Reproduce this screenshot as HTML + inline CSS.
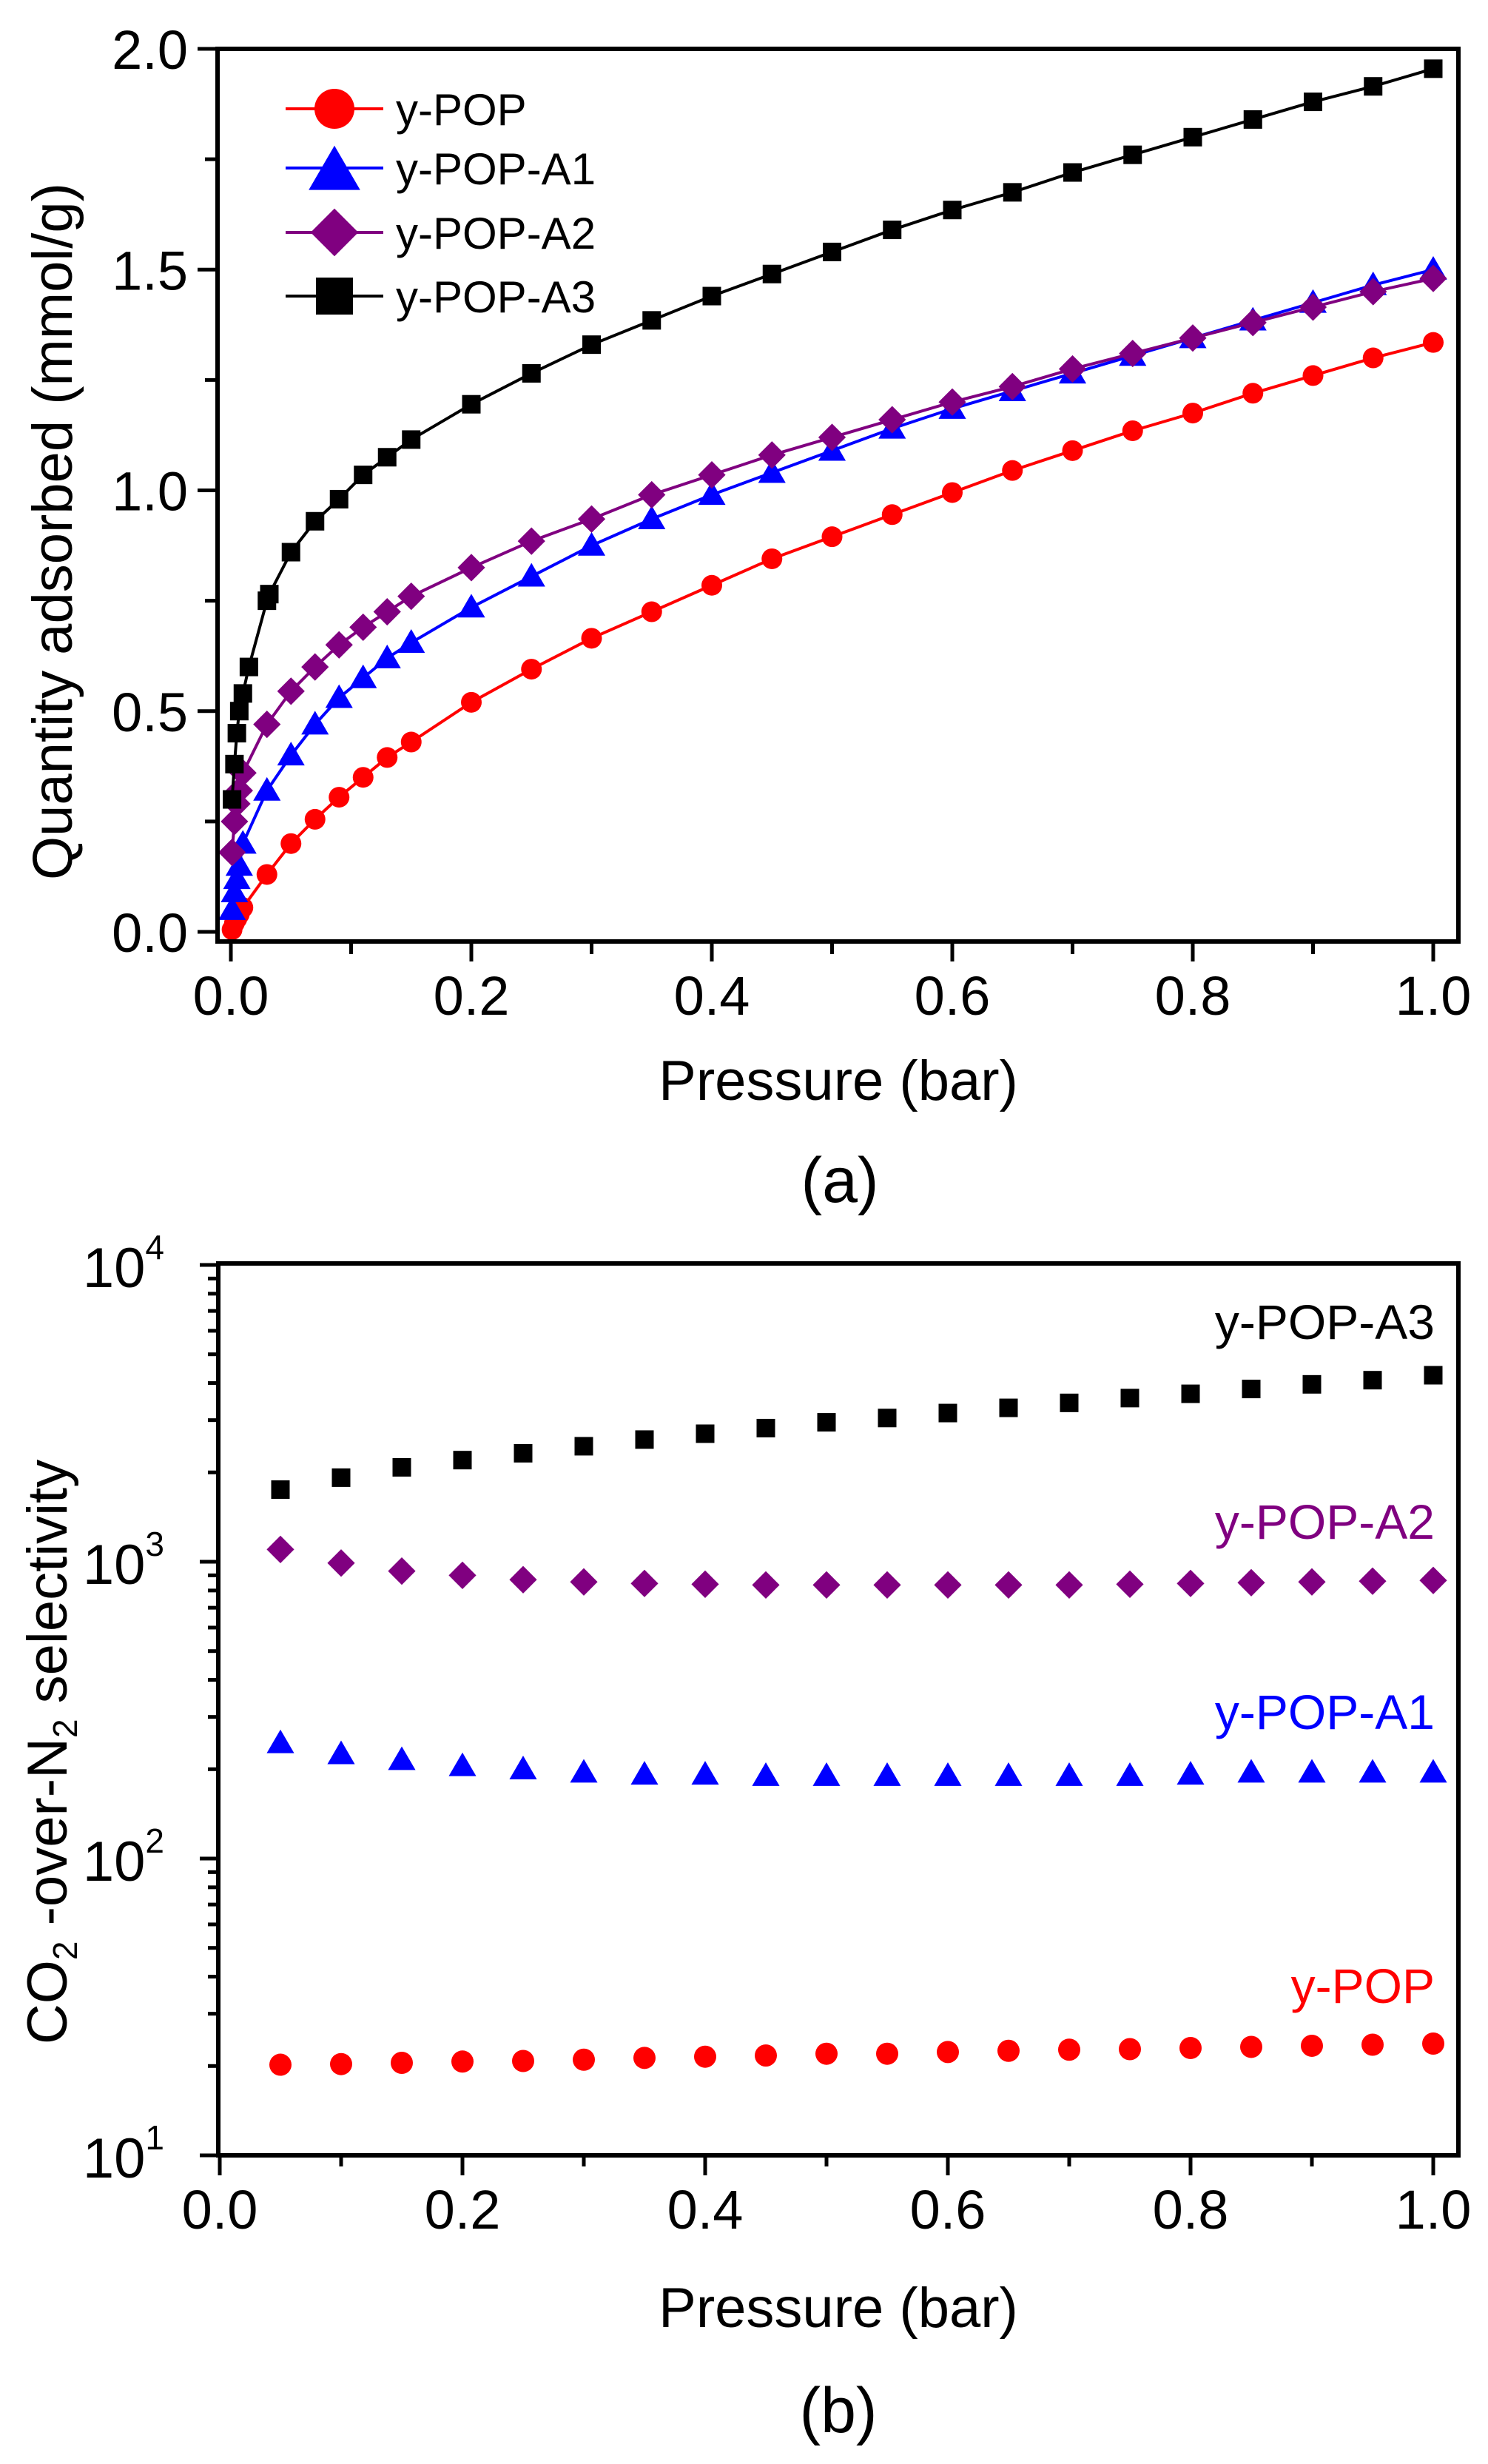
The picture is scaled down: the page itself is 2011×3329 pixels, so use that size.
<!DOCTYPE html>
<html><head><meta charset="utf-8"><style>
html,body{margin:0;padding:0;background:#fff;}
svg{display:block;font-family:"Liberation Sans",Arial,sans-serif;}
</style></head><body>
<svg id="fig" width="2011" height="3329" viewBox="0 0 2011 3329" xmlns="http://www.w3.org/2000/svg">
<rect width="2011" height="3329" fill="#fff"/>
<g id="pa"></g>
<g id="pb"></g>
</svg>
<script>
// ---- Panel (a) data ----
const aXPop = [0.001,0.003,0.005,0.007,0.01,0.03,0.05,0.07,0.09,0.11,0.13,0.15,0.2,0.25,0.3,0.35,0.4,0.45,0.5,0.55,0.6,0.65,0.7,0.75,0.8,0.85,0.9,0.95,1.0];
const aYPop = [0.005,0.02,0.03,0.04,0.055,0.13,0.2,0.255,0.305,0.35,0.395,0.43,0.52,0.595,0.665,0.725,0.785,0.845,0.895,0.945,0.995,1.045,1.09,1.135,1.175,1.22,1.26,1.3,1.335];
const aXA1 = aXPop;
const aYA1 = [0.05,0.09,0.12,0.15,0.2,0.32,0.4,0.47,0.53,0.575,0.62,0.655,0.735,0.805,0.875,0.935,0.99,1.04,1.09,1.14,1.185,1.225,1.265,1.305,1.345,1.385,1.425,1.465,1.5];
const aXA2 = aXPop;
const aYA2 = [0.18,0.25,0.29,0.32,0.36,0.47,0.545,0.6,0.65,0.69,0.725,0.76,0.825,0.885,0.935,0.99,1.035,1.08,1.12,1.16,1.2,1.235,1.275,1.31,1.345,1.38,1.415,1.45,1.48];
const aXA3 = [0.001,0.003,0.005,0.007,0.01,0.015,0.03,0.032,0.05,0.07,0.09,0.11,0.13,0.15,0.2,0.25,0.3,0.35,0.4,0.45,0.5,0.55,0.6,0.65,0.7,0.75,0.8,0.85,0.9,0.95,1.0];
const aYA3 = [0.3,0.38,0.45,0.5,0.54,0.6,0.75,0.765,0.86,0.93,0.98,1.035,1.075,1.115,1.195,1.265,1.33,1.385,1.44,1.49,1.54,1.59,1.635,1.675,1.72,1.76,1.8,1.84,1.88,1.915,1.955];
const aXTicks = ["0.0","0.2","0.4","0.6","0.8","1.0"];
const aYTicks = ["0.0","0.5","1.0","1.5","2.0"];
const legendNames = ["y-POP","y-POP-A1","y-POP-A2","y-POP-A3"];

// ---- Panel (b) data ----
const bX = [0.05,0.1,0.15,0.2,0.25,0.3,0.35,0.4,0.45,0.5,0.55,0.6,0.65,0.7,0.75,0.8,0.85,0.9,0.95,1.0];
const bA3 = [1750,1920,2080,2200,2320,2450,2580,2700,2820,2950,3050,3170,3300,3430,3560,3680,3820,3960,4090,4250];
const bA2 = [1100,990,930,900,870,855,845,840,835,835,835,835,835,835,840,845,850,855,860,865];
const bA1 = [245,225,215,205,200,195,192,192,190,190,190,190,190,190,190,192,195,195,195,195];
const bPop = [20.2,20.3,20.5,20.7,20.8,21,21.3,21.5,21.7,22,22,22.3,22.5,22.7,22.8,23,23.2,23.4,23.6,23.8];
const bXTicks = ["0.0","0.2","0.4","0.6","0.8","1.0"];
const bYExp = [1,2,3,4];

const NS="http://www.w3.org/2000/svg";
function mk(parent,tag,attrs,text){const e=document.createElementNS(NS,tag);for(const k in attrs)e.setAttribute(k,attrs[k]);if(text!==undefined)e.textContent=text;parent.appendChild(e);return e;}
function marker(g,type,cx,cy,s,color){
  let e;
  if(type==='circle') e=mk(g,'circle',{cx:cx,cy:cy,r:s/2,fill:color});
  else if(type==='square') e=mk(g,'rect',{x:cx-s/2,y:cy-s/2,width:s,height:s,fill:color});
  else if(type==='tri'){const h=s*0.95;e=mk(g,'polygon',{points:`${cx},${cy-h*0.6} ${cx-s*0.58},${cy+h*0.45} ${cx+s*0.58},${cy+h*0.45}`,fill:color});}
  else {const r=s*0.62;e=mk(g,'polygon',{points:`${cx},${cy-r} ${cx+r},${cy} ${cx},${cy+r} ${cx-r},${cy}`,fill:color});}
  return e;
}
const colors=["#ff0000","#0000ff","#800080","#000000"];
const types=["circle","tri","diamond","square"];

// ===== Panel A =====
(function(){
  const g=document.getElementById('pa');
  const L=294,T=66,R=1971,B=1272;
  const X=v=>312+v*1625, Y=v=>1259-v*596.5;
  for(let i=0;i<=10;i++){const x=X(i/10);const t=mk(g,'line',{x1:x,y1:B,x2:x,y2:B+(i%2?17:27),stroke:'#000','stroke-width':5});
    }
  for(let i=0;i<=8;i++){const y=Y(i*0.25);const t=mk(g,'line',{x1:L,y1:y,x2:L-(i%2?17:27),y2:y,stroke:'#000','stroke-width':5});
    }
  aXTicks.forEach((s,i)=>{const t=mk(g,'text',{x:X(parseFloat(s)),y:1371,'font-size':74,'text-anchor':'middle'},s);
    });
  aYTicks.forEach((s,i)=>{const t=mk(g,'text',{x:254,y:Y(parseFloat(s))+27,'font-size':74,'text-anchor':'end'},s);
    });
  const xt=mk(g,'text',{x:1133,y:1486,'font-size':76,'text-anchor':'middle'},'Pressure (bar)');
  
  const yt=mk(g,'text',{x:0,y:0,'font-size':76,'text-anchor':'middle',transform:'translate(97,718) rotate(-90)'},'Quantity adsorbed (mmol/g)');
  
  const cap=mk(g,'text',{x:1135,y:1624,'font-size':86,'text-anchor':'middle'},'(a)');
  
  const xs=[aXPop,aXA1,aXA2,aXA3], ys=[aYPop,aYA1,aYA2,aYA3], sz=[28,32,30,25];
  for(let s=0;s<4;s++){
    const sg=mk(g,'g',{});
    
    
    const pts=xs[s].map((x,i)=>X(x)+','+Y(ys[s][i])).join(' ');
    mk(sg,'polyline',{points:pts,fill:'none',stroke:colors[s],'stroke-width':4});
    xs[s].forEach((x,i)=>{const m=marker(sg,types[s],X(x),Y(ys[s][i]),sz[s],colors[s]);
      });
  }
  const fr=mk(g,'rect',{x:L,y:T,width:R-L,height:B-T,fill:'none',stroke:'#000','stroke-width':6});
  
  const lg=mk(g,'g',{});
  
  const rows=[147,227,314,400], lsz=[54,60,52,50];
  legendNames.forEach((n,i)=>{
    const e=mk(lg,'g',{});
    
    mk(e,'line',{x1:386,y1:rows[i],x2:518,y2:rows[i],stroke:colors[i],'stroke-width':4});
    marker(e,types[i],452,rows[i]+(i===1?4:0),lsz[i],colors[i]);
    mk(e,'text',{x:535,y:rows[i]+22,'font-size':60},n);
  });
})();

// ===== Panel B =====
(function(){
  const g=document.getElementById('pb');
  const L=295,T=1707,R=1971,B=2912;
  const X=v=>297+v*1640, Y=v=>2912-(Math.log10(v)-1)*401;
  for(let i=0;i<=10;i++){const x=X(i/10);const t=mk(g,'line',{x1:x,y1:B,x2:x,y2:B+(i%2?15:27),stroke:'#000','stroke-width':5});
    }
  for(let d=1;d<4;d++){for(let k=1;k<=9;k++){const y=Y(k*Math.pow(10,d));const t=mk(g,'line',{x1:L,y1:y,x2:L-(k===1?25:14),y2:y,stroke:'#000','stroke-width':5});
    }}
  const t4=mk(g,'line',{x1:L,y1:Y(10000),x2:L-25,y2:Y(10000),stroke:'#000','stroke-width':5});
  
  bXTicks.forEach(s=>{const t=mk(g,'text',{x:X(parseFloat(s)),y:3011,'font-size':74,'text-anchor':'middle'},s);
    });
  bYExp.forEach(e=>{const t=mk(g,'text',{x:222,y:Y(Math.pow(10,e))+30,'font-size':76,'text-anchor':'end'},'10');
    
    mk(t,'tspan',{'font-size':46,dy:-38},String(e));});
  const xt=mk(g,'text',{x:1133,y:3144,'font-size':76,'text-anchor':'middle'},'Pressure (bar)');
  
  const yt=mk(g,'text',{x:0,y:0,'font-size':76,'text-anchor':'middle',transform:'translate(90,2367) rotate(-90)'});
  
  yt.appendChild(document.createTextNode('CO'));
  mk(yt,'tspan',{'font-size':46,dy:14},'2');
  mk(yt,'tspan',{dy:-14},' -over-N');
  mk(yt,'tspan',{'font-size':46,dy:14},'2');
  mk(yt,'tspan',{dy:-14},' selectivity');
  const cap=mk(g,'text',{x:1133,y:3286,'font-size':86,'text-anchor':'middle'},'(b)');
  
  const ys=[bPop,bA1,bA2,bA3], sz=[30,32,30,25];
  for(let s=0;s<4;s++){
    const sg=mk(g,'g',{});
    
    
    bX.forEach((x,i)=>{const m=marker(sg,types[s],X(x),Y(ys[s][i]),sz[s],colors[s]);
      });
  }
  const lbl=[[2706,'y-POP'],[2336,'y-POP-A1'],[2079,'y-POP-A2'],[1809,'y-POP-A3']];
  lbl.forEach((l,i)=>{const t=mk(g,'text',{x:1939,y:l[0],'font-size':66,'text-anchor':'end',fill:colors[i]},l[1]);
    });
  const fr=mk(g,'rect',{x:L,y:T,width:R-L,height:B-T,fill:'none',stroke:'#000','stroke-width':6});
  
})();
</script>
</body></html>
